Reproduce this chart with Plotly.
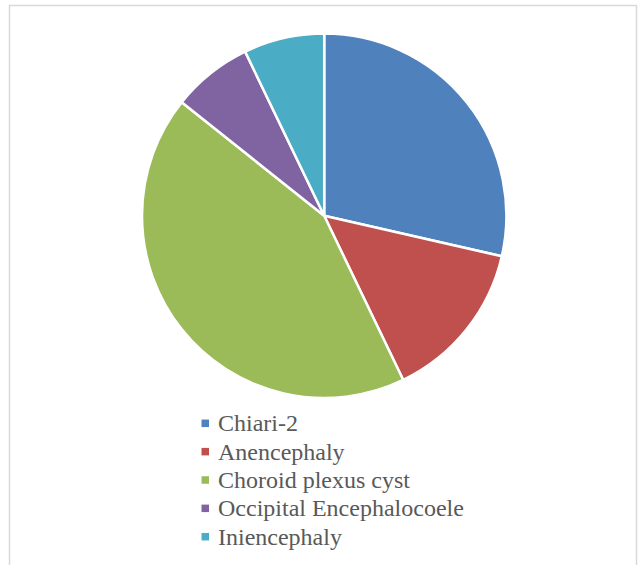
import plotly.graph_objects as go

labels = ["Chiari-2", "Anencephaly", "Choroid plexus cyst", "Occipital Encephalocoele", "Iniencephaly"]
values = [4, 2, 6, 1, 1]
colors = ["#4F81BD", "#C0504D", "#9BBB59", "#8064A2", "#4BACC6"]

W, H = 640, 565
cx, cy, half = 324.2, 215.8, 182.2

fig = go.Figure(go.Pie(
    labels=labels, values=values, sort=False, direction="clockwise", rotation=0,
    marker=dict(colors=colors, line=dict(color="white", width=2.5)),
    textinfo="none", hoverinfo="label+value", showlegend=False,
    domain=dict(x=[(cx - half) / W, (cx + half) / W], y=[1 - (cy + half) / H, 1 - (cy - half) / H]),
))

# Legend drawn as a list of rows below the pie
leg_x_sq, leg_x_txt, leg_y0, leg_dy, sq = 201.5, 215.5, 423.3, 28.35, 7.5
shapes = [dict(type="rect", xref="paper", yref="paper",
               x0=9.5 / W, x1=636.5 / W, y0=-0.05, y1=1 - 5.5 / H,
               line=dict(color="#D9D9D9", width=1.5), fillcolor="rgba(0,0,0,0)")]
annotations = []
for i, (lab, col) in enumerate(zip(labels, colors)):
    yc = leg_y0 + i * leg_dy
    shapes.append(dict(type="rect", xref="paper", yref="paper",
                       x0=leg_x_sq / W, x1=(leg_x_sq + sq) / W,
                       y0=1 - (yc + sq / 2) / H, y1=1 - (yc - sq / 2) / H,
                       line=dict(width=0), fillcolor=col))
    annotations.append(dict(xref="paper", yref="paper", x=leg_x_txt / W, y=1 - yc / H,
                            xanchor="left", yanchor="middle", showarrow=False, text=lab,
                            font=dict(family="Liberation Serif", size=24, color="#595959")))

fig.update_layout(
    width=W, height=H,
    margin=dict(l=0, r=0, t=0, b=0),
    paper_bgcolor="white",
    showlegend=False,
    shapes=shapes,
    annotations=annotations,
)

fig.write_html("out.html", config={"displayModeBar": False},
               post_script="document.body.style.margin='0';")
